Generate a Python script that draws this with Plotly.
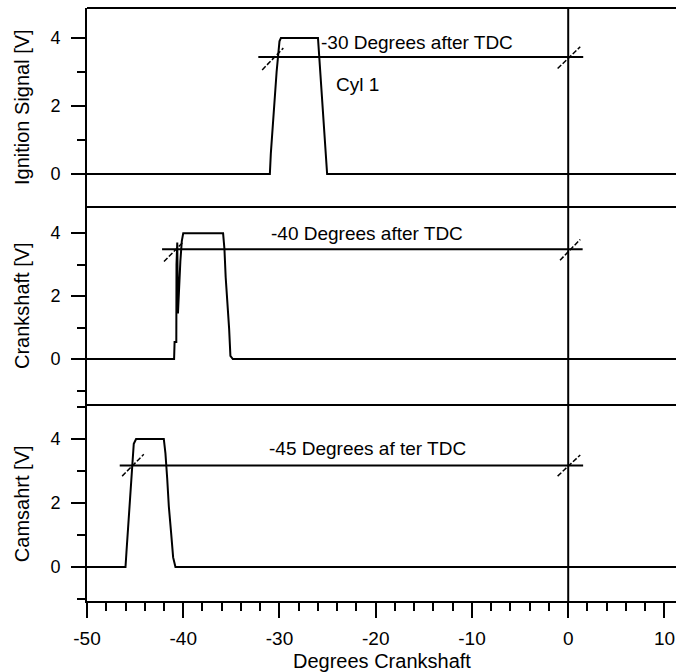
import plotly.graph_objects as go

# ---------------- data ----------------
ign_x = [-50, -31.0, -30.9, -30.6, -30.3, -30.0, -29.85, -26.0, -25.85, -25.65, -25.45, -25.25, -25.05, 12]
ign_y = [0, 0, 0.6, 1.9, 3.0, 3.9, 4.0, 4.0, 3.4, 2.6, 1.7, 0.9, 0, 0]

crank_x = [-50, -40.95, -40.9, -40.72, -40.7, -40.62, -40.55, -40.45, -40.3, -40.15, -40.0,
           -35.86, -35.72, -35.59, -35.38, -35.23, -35.1, -34.85, 12]
crank_y = [0, 0, 0.54, 0.54, 3.0, 3.7, 1.45, 2.2, 3.1, 3.75, 4.0,
           4.0, 3.5, 2.6, 1.75, 0.95, 0.1, 0, 0]

cam_x = [-50, -46.0, -45.9, -45.72, -45.56, -45.31, -45.14, -44.9, -42.02, -41.85, -41.67, -41.5, -41.26, -41.05, -40.81, 12]
cam_y = [0, 0, 0.47, 1.35, 2.18, 3.1, 3.85, 4.0, 4.0, 3.55, 2.78, 1.9, 1.07, 0.3, 0, 0]

# cursor (measurement) lines
ign_cursor_x = [-32.2, 1.56]
ign_cursor_y = [3.44, 3.44]
crank_cursor_x = [-42.2, 1.5]
crank_cursor_y = [3.49, 3.49]
cam_cursor_x = [-46.6, 1.55]
cam_cursor_y = [3.17, 3.17]

# slash marks at cursor crossings
ign_slash = [([-31.8, -29.6], [3.06, 3.7]), ([-1.1, 1.25], [3.1, 3.74])]
crank_slash = [([-42.0, -40.0], [3.1, 3.72]), ([-0.85, 1.25], [3.14, 3.8])]
cam_slash = [([-46.35, -44.1], [2.84, 3.52]), ([-1.1, 1.25], [2.84, 3.5])]

x_tickvals = [-50, -40, -30, -20, -10, 0, 10]
x_ticktext = ["-50", "-40", "-30", "-20", "-10", "0", "10"]

panel_titles = ["Ignition Signal [V]", "Crankshaft [V]", "Camsahrt [V]"]
panel_notes = ["-30 Degrees after TDC", "-40 Degrees after TDC", "-45 Degrees af ter TDC"]
x_title = "Degrees Crankshaft"

FONT = "Liberation Sans, Arial, sans-serif"
BLACK = "#000000"
LW = 2

fig = go.Figure()

panels = [
    ("y", ign_x, ign_y, ign_cursor_x, ign_cursor_y, ign_slash),
    ("y2", crank_x, crank_y, crank_cursor_x, crank_cursor_y, crank_slash),
    ("y3", cam_x, cam_y, cam_cursor_x, cam_cursor_y, cam_slash),
]
for yref, xs, ys, cx, cy, sl in panels:
    fig.add_trace(go.Scatter(x=xs, y=ys, mode="lines", xaxis="x", yaxis=yref,
                             line=dict(color=BLACK, width=LW), showlegend=False, hoverinfo="skip"))
    fig.add_trace(go.Scatter(x=cx, y=cy, mode="lines", xaxis="x", yaxis=yref,
                             line=dict(color=BLACK, width=LW), showlegend=False, hoverinfo="skip"))
    for sx, sy in sl:
        fig.add_trace(go.Scatter(x=sx, y=sy, mode="lines", xaxis="x", yaxis=yref,
                                 line=dict(color=BLACK, width=1.5, dash="5px,2px"),
                                 showlegend=False, hoverinfo="skip"))

yaxis_common = dict(
    showline=True, linecolor=BLACK, linewidth=LW,
    ticks="outside", ticklen=14, tickwidth=LW, tickcolor=BLACK,
    dtick=2, tick0=0, showgrid=False, zeroline=False,
    tickfont=dict(family=FONT, size=18, color=BLACK),
    ticklabelstandoff=7,
    minor=dict(dtick=1, tick0=0, ticks="outside", ticklen=8, tickwidth=LW, tickcolor=BLACK, showgrid=False),
    anchor="x", fixedrange=True,
)

# panel boundaries (paper fractions)
D2 = 0.6644
D3 = 0.3305

fig.update_layout(
    width=676, height=672,
    margin=dict(l=87, r=0, t=8, b=71),
    paper_bgcolor="white", plot_bgcolor="white",
    font=dict(family=FONT, color=BLACK),
    xaxis=dict(
        range=[-50, 11.2], anchor="y3",
        showline=True, linecolor=BLACK, linewidth=LW,
        ticks="outside", ticklen=15, tickwidth=LW, tickcolor=BLACK,
        tickmode="array", tickvals=x_tickvals, ticktext=x_ticktext,
        showgrid=False, zeroline=False,
        tickfont=dict(family=FONT, size=19, color=BLACK),
        ticklabelstandoff=4,
        minor=dict(dtick=2, tick0=0, ticks="outside", ticklen=8, tickwidth=LW, tickcolor=BLACK, showgrid=False),
        fixedrange=True,
    ),
    yaxis=dict(domain=[D2, 1], range=[-0.97, 4.88], **yaxis_common),
    yaxis2=dict(domain=[D3, D2], range=[-1.46, 4.83], **yaxis_common),
    yaxis3=dict(domain=[0, D3], range=[-1.06, 5.06], **yaxis_common),
)

# frame lines between panels and at the top
for yp in [1.0, D2, D3]:
    fig.add_shape(type="line", xref="paper", yref="paper", x0=0, x1=1, y0=yp, y1=yp,
                  line=dict(color=BLACK, width=LW), layer="above")
# vertical TDC line at 0
fig.add_shape(type="line", xref="x", yref="paper", x0=0, x1=0, y0=0, y1=1,
              line=dict(color=BLACK, width=LW), layer="above")

# panel notes
note_pos = [("y", -25.85, 3.88), ("y2", -31.05, 4.0), ("y3", -31.25, 3.69)]
for (yref, nx, ny), txt in zip(note_pos, panel_notes):
    fig.add_annotation(x=nx, y=ny, xref="x", yref=yref, text=txt, showarrow=False,
                       xanchor="left", yanchor="middle",
                       font=dict(family=FONT, size=19, color=BLACK))
fig.add_annotation(x=-24.3, y=2.62, xref="x", yref="y", text="Cyl 1", showarrow=False,
                   xanchor="left", yanchor="middle", font=dict(family=FONT, size=19, color=BLACK))

# y titles
title_y = [0.833, 0.499, 0.165]
for ty, txt in zip(title_y, panel_titles):
    fig.add_annotation(x=-0.1104, y=ty, xref="paper", yref="paper", text=txt, showarrow=False,
                       textangle=-90, xanchor="center", yanchor="middle",
                       font=dict(family=FONT, size=20, color=BLACK))
# x title
fig.add_annotation(x=0.5008, y=-0.101, xref="paper", yref="paper", text=x_title, showarrow=False,
                   xanchor="center", yanchor="middle", font=dict(family=FONT, size=20, color=BLACK))

fig.write_html(
    "out.html",
    config={"displayModeBar": False},
    post_script="document.body.style.margin='0';document.body.style.overflow='hidden';",
)
